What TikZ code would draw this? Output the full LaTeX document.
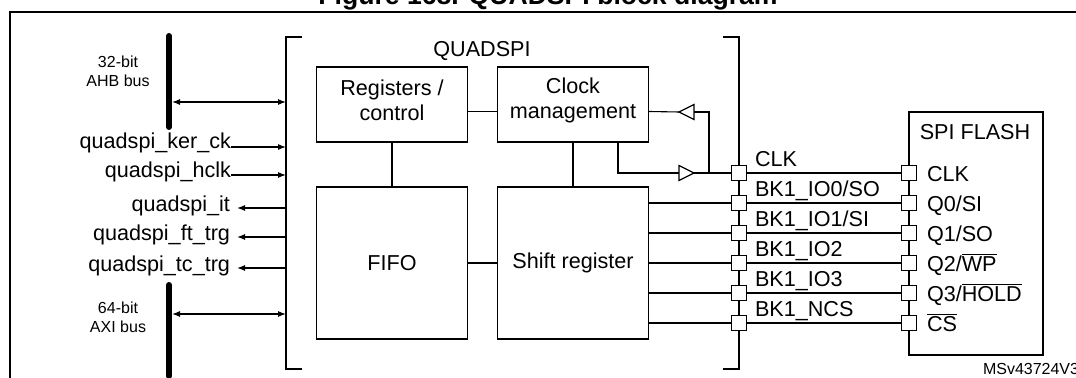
\documentclass[tikz,border=0pt]{standalone}
\usepackage{fontspec}
\setmainfont{Liberation Sans}
\usetikzlibrary{arrows.meta}
\begin{document}
\begin{tikzpicture}[x=0.5pt,y=-0.5pt,
  every node/.style={font=\fontsize{10.8}{12.5}\selectfont, inner sep=0pt, outer sep=0pt},
  blk/.style={draw, line width=0.75pt, minimum width=75.5pt, minimum height=37.5pt},
  bigblk/.style={blk, minimum height=76pt},
  pad/.style={draw, fill=white, line width=0.7pt, minimum size=7.5pt},
  wire/.style={line width=0.55pt},
  tip/.style={-{Latex[length=4pt,width=3pt]}},
  dtip/.style={{Latex[length=4pt,width=3pt]}-{Latex[length=4pt,width=3pt]}},
  bus/.style={line width=3pt, line cap=round},
  small/.style={font=\fontsize{8}{9.5}\selectfont, align=center},
  buf/.style={line width=0.6pt, fill=white}
]
\useasboundingbox (0,0) rectangle (1076,378);
\clip (0,0) rectangle (1076,378);

% title and frame
\node[font=\bfseries\fontsize{13.3}{16}\selectfont, anchor=base] (title) at (548,5) {Figure 168. QUADSPI block diagram};
\coordinate (frBL) at (10,390);
\coordinate (frTL) at (10,12);
\coordinate (frTR) at (1090,12);
\draw[line width=1pt] (frBL) -- (frTL) -- (frTR);

% buses
\coordinate (ahbT) at (169,36);
\coordinate (ahbB) at (169,127);
\coordinate (axiT) at (169,285);
\coordinate (axiB) at (169,376);
\draw[bus] (ahbT) -- (ahbB);
\draw[bus] (axiT) -- (axiB);
\node[small] (ahbl) at (118,71) {32-bit\\AHB bus};
\node[small] (axil) at (118,317) {64-bit\\AXI bus};

% left bracket
\coordinate (brT) at (286,37);
\coordinate (brB) at (286,369);
\draw[line width=0.8pt] ([xshift=8pt]brT) -- (brT) -- (brB) -- ([xshift=8pt]brB);

% bus arrows
\coordinate (ahbA) at (172,102);
\coordinate (axiA) at (172,314);
\draw[wire,dtip] (ahbA) -- (ahbA -| brT);
\draw[wire,dtip] (axiA) -- (axiA -| brT);

% left signals
\node[anchor=base east] (ker) at (231,149) {quadspi\_ker\_ck};
\node[anchor=base east] (hclk) at (231,178) {quadspi\_hclk};
\node[anchor=base east] (it) at (230,212) {quadspi\_it};
\node[anchor=base east] (ft) at (230,241) {quadspi\_ft\_trg};
\node[anchor=base east] (tc) at (230,272) {quadspi\_tc\_trg};
\draw[wire,tip] ([yshift=1pt]ker.base east) -- ([yshift=1pt]ker.base east -| brT);
\draw[wire,tip] ([yshift=1.5pt]hclk.base east) -- ([yshift=1.5pt]hclk.base east -| brT);
\draw[wire,tip] ([yshift=2pt]it.base east -| brT) -- ([xshift=3.5pt,yshift=2pt]it.base east);
\draw[wire,tip] ([yshift=2pt]ft.base east -| brT) -- ([xshift=3.5pt,yshift=2pt]ft.base east);
\draw[wire,tip] ([yshift=2pt]tc.base east -| brT) -- ([xshift=3.5pt,yshift=2pt]tc.base east);

% QUADSPI blocks
\node (qlabel) at (482,51) {QUADSPI};
\node[blk] (reg) at (392,104.5) {};
\node[blk] (clk) at (573,104.5) {};
\node[bigblk] (fifo) at (392,263) {};
\node[bigblk] (shift) at (573,263) {};
\node[align=center] (regt) at (392,100) {Registers /\\control};
\node[align=center] (clkt) at (573,100) {Clock\\management};
\node (fifot) at (392,263) {FIFO};
\node (shiftt) at (573,263) {Shift register};

\draw[wire] ([yshift=-3.5pt]reg.east) -- ([yshift=-3.5pt]clk.west);
\draw[wire] (reg.south) -- (fifo.north);
\draw[wire] (clk.south) -- (shift.north);
\draw[wire] (fifo.east) -- (shift.west);

% right bus bracket
\coordinate (rbT) at (739,37);
\coordinate (rbB) at (739,369);
\draw[line width=0.8pt] ([xshift=-8pt]rbT) -- (rbT) -- (rbB) -- ([xshift=-8pt]rbB);

% SPI flash box
\node[draw, line width=0.75pt, minimum width=67pt, minimum height=121.5pt] (flash) at (976,233.5) {};
\node (flasht) at (975,132) {SPI FLASH};

% pads
\foreach \i/\y in {1/173,2/203,3/233,4/263,5/293,6/323}{
  \node[pad] (p\i) at (739,\y) {};
  \node[pad] (f\i) at (909,\y) {};
}

% clock buffers
\coordinate (tipL) at (679,112);
\coordinate (baseL) at (694,112);
\coordinate (baseR) at (679,173);
\coordinate (tipR) at (694,173);
\coordinate (fb) at (709,112);
\draw[wire] ([yshift=-3.5pt]clk.east) -- (tipL);
\draw[wire] (baseL) -- (fb) -- (fb |- p1);
\draw[wire] ([xshift=22.5pt]clk.south) |- (baseR);
\draw[wire] (tipR) -- (p1.west);
\draw[buf] (tipL) -- ([yshift=3.75pt]baseL) -- ([yshift=-3.75pt]baseL) -- cycle;
\draw[buf] (tipR) -- ([yshift=3.75pt]baseR) -- ([yshift=-3.75pt]baseR) -- cycle;

% signal lines
\foreach \i in {2,...,6}{
  \draw[wire] (shift.east |- p\i) -- (p\i.west);
}
\foreach \i in {1,...,6}{
  \draw[wire] (p\i.east) -- (f\i.west);
}

% pin labels
\node[anchor=base west] (l1) at (755,166.5) {CLK};
\node[anchor=base west] (l2) at (755,196.5) {BK1\_IO0/SO};
\node[anchor=base west] (l3) at (755,226.5) {BK1\_IO1/SI};
\node[anchor=base west] (l4) at (755,256.5) {BK1\_IO2};
\node[anchor=base west] (l5) at (755,286.5) {BK1\_IO3};
\node[anchor=base west] (l6) at (755,316.5) {BK1\_NCS};

\node[anchor=base west] (g1) at (927,182) {CLK};
\node[anchor=base west] (g2) at (927,212) {Q0/SI};
\node[anchor=base west] (g3) at (927,242) {Q1/SO};
\node[anchor=base west] (g4) at (927,272) {Q2/$\overline{\mbox{WP}}$};
\node[anchor=base west] (g5) at (927,302) {Q3/$\overline{\mbox{HOLD}}$};
\node[anchor=base west] (g6) at (927,332) {$\overline{\mbox{CS}}$};

\node[small, anchor=base west] (ref) at (983,375) {MSv43724V3};
\end{tikzpicture}
\end{document}
